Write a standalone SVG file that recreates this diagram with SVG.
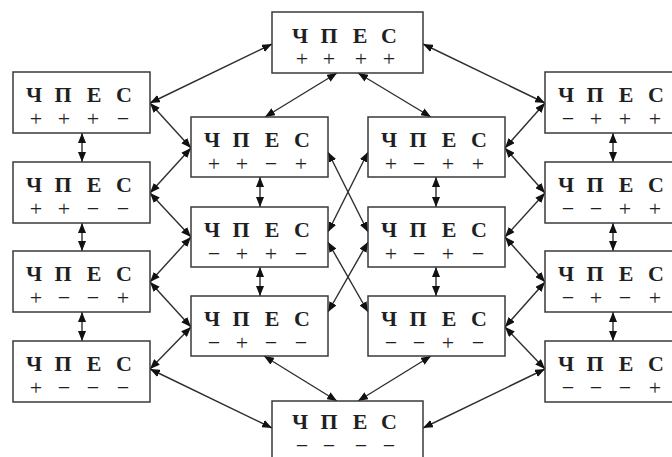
<svg xmlns="http://www.w3.org/2000/svg" width="672" height="457" viewBox="0 0 672 457">
  <style>
    .box { fill: #ffffff; stroke: #3a3a3a; stroke-width: 1.5; }
    .hd { font-family: "Liberation Serif", "Times New Roman", serif; font-weight: bold; font-size: 22px; fill: #1e1e1e; text-anchor: middle; opacity: 0.99; }
    .sg { font-family: "Liberation Serif", "Times New Roman", serif; font-size: 22px; fill: #1e1e1e; text-anchor: middle; opacity: 0.99; }
    .cn { fill: none; stroke: #2e2e2e; stroke-width: 1.4; marker-start: url(#ah); marker-end: url(#ah); }
  </style>
  <defs>
    <marker id="ah" viewBox="0 0 10 8" refX="10" refY="4" markerWidth="10" markerHeight="8" markerUnits="userSpaceOnUse" orient="auto-start-reverse">
      <path d="M0,0 L10,4 L0,8 z" fill="#111"/>
    </marker>
  </defs>
  <rect x="0" y="0" width="672" height="457" fill="#ffffff"/>

  <!-- connectors -->
  <g id="connectors">
    <!-- top node -->
    <line class="cn" x1="150" y1="103" x2="272" y2="44"/>
    <line class="cn" x1="337" y1="73" x2="265" y2="117"/>
    <line class="cn" x1="358" y1="73" x2="431" y2="117"/>
    <line class="cn" x1="423" y1="44" x2="545" y2="103"/>
    <!-- bottom node -->
    <line class="cn" x1="150" y1="369" x2="272" y2="428"/>
    <line class="cn" x1="264" y1="356" x2="337" y2="401"/>
    <line class="cn" x1="431" y1="356" x2="358" y2="401"/>
    <line class="cn" x1="545" y1="369" x2="423" y2="428"/>
    <!-- left column verticals -->
    <line class="cn" x1="82" y1="133" x2="82" y2="162"/>
    <line class="cn" x1="82" y1="223" x2="82" y2="251"/>
    <line class="cn" x1="82" y1="312" x2="82" y2="341"/>
    <!-- inner left verticals -->
    <line class="cn" x1="260" y1="177" x2="260" y2="207"/>
    <line class="cn" x1="260" y1="267" x2="260" y2="296"/>
    <!-- inner right verticals -->
    <line class="cn" x1="436" y1="177" x2="436" y2="207"/>
    <line class="cn" x1="436" y1="267" x2="436" y2="296"/>
    <!-- right column verticals -->
    <line class="cn" x1="613" y1="133" x2="613" y2="162"/>
    <line class="cn" x1="613" y1="223" x2="613" y2="251"/>
    <line class="cn" x1="613" y1="312" x2="613" y2="341"/>
    <!-- left zigzag -->
    <line class="cn" x1="150" y1="103" x2="191" y2="148"/>
    <line class="cn" x1="191" y1="148" x2="150" y2="193"/>
    <line class="cn" x1="150" y1="193" x2="191" y2="237"/>
    <line class="cn" x1="191" y1="237" x2="150" y2="282"/>
    <line class="cn" x1="150" y1="282" x2="191" y2="327"/>
    <line class="cn" x1="191" y1="327" x2="150" y2="369"/>
    <!-- right zigzag -->
    <line class="cn" x1="545" y1="103" x2="505" y2="148"/>
    <line class="cn" x1="505" y1="148" x2="545" y2="193"/>
    <line class="cn" x1="545" y1="193" x2="505" y2="237"/>
    <line class="cn" x1="505" y1="237" x2="545" y2="282"/>
    <line class="cn" x1="545" y1="282" x2="505" y2="327"/>
    <line class="cn" x1="505" y1="327" x2="545" y2="369"/>
    <!-- crossings between inner columns -->
    <line class="cn" x1="328" y1="152" x2="368" y2="232"/>
    <line class="cn" x1="368" y1="152" x2="328" y2="232"/>
    <line class="cn" x1="328" y1="242" x2="368" y2="312"/>
    <line class="cn" x1="368" y1="242" x2="328" y2="312"/>
  </g>

  <!-- top -->
  <g id="n-pppp" transform="translate(272,12)">
    <rect class="box" x="0" y="0" width="151" height="61"/>
    <text class="hd"><tspan x="28" y="31">Ч</tspan><tspan x="57" y="31">П</tspan><tspan x="88" y="31">Е</tspan><tspan x="117" y="31">С</tspan></text>
    <text class="sg"><tspan x="30" y="54">+</tspan><tspan x="57" y="54">+</tspan><tspan x="89" y="54">+</tspan><tspan x="117" y="54">+</tspan></text>
  </g>

  <!-- left column -->
  <g id="n-pppm" transform="translate(13,72)">
    <rect class="box" x="0" y="0" width="137" height="61"/>
    <text class="hd"><tspan x="21" y="30">Ч</tspan><tspan x="50" y="30">П</tspan><tspan x="81" y="30">Е</tspan><tspan x="111" y="30">С</tspan></text>
    <text class="sg"><tspan x="23" y="53.5">+</tspan><tspan x="51" y="53.5">+</tspan><tspan x="80" y="53.5">+</tspan><tspan x="110" y="53.5">−</tspan></text>
  </g>
  <g id="n-ppmm" transform="translate(13,162)">
    <rect class="box" x="0" y="0" width="137" height="61"/>
    <text class="hd"><tspan x="21" y="30">Ч</tspan><tspan x="50" y="30">П</tspan><tspan x="81" y="30">Е</tspan><tspan x="111" y="30">С</tspan></text>
    <text class="sg"><tspan x="23" y="53.5">+</tspan><tspan x="51" y="53.5">+</tspan><tspan x="80" y="53.5">−</tspan><tspan x="110" y="53.5">−</tspan></text>
  </g>
  <g id="n-pmmp" transform="translate(13,251)">
    <rect class="box" x="0" y="0" width="137" height="61"/>
    <text class="hd"><tspan x="21" y="30">Ч</tspan><tspan x="50" y="30">П</tspan><tspan x="81" y="30">Е</tspan><tspan x="111" y="30">С</tspan></text>
    <text class="sg"><tspan x="23" y="53.5">+</tspan><tspan x="51" y="53.5">−</tspan><tspan x="80" y="53.5">−</tspan><tspan x="110" y="53.5">+</tspan></text>
  </g>
  <g id="n-pmmm" transform="translate(13,341)">
    <rect class="box" x="0" y="0" width="137" height="61"/>
    <text class="hd"><tspan x="21" y="30">Ч</tspan><tspan x="50" y="30">П</tspan><tspan x="81" y="30">Е</tspan><tspan x="111" y="30">С</tspan></text>
    <text class="sg"><tspan x="23" y="53.5">+</tspan><tspan x="51" y="53.5">−</tspan><tspan x="80" y="53.5">−</tspan><tspan x="110" y="53.5">−</tspan></text>
  </g>

  <!-- inner left column -->
  <g id="n-ppmp" transform="translate(191,117)">
    <rect class="box" x="0" y="0" width="137" height="60"/>
    <text class="hd"><tspan x="21" y="30">Ч</tspan><tspan x="50" y="30">П</tspan><tspan x="81" y="30">Е</tspan><tspan x="111" y="30">С</tspan></text>
    <text class="sg"><tspan x="23" y="53.5">+</tspan><tspan x="51" y="53.5">+</tspan><tspan x="80" y="53.5">−</tspan><tspan x="110" y="53.5">+</tspan></text>
  </g>
  <g id="n-mppm" transform="translate(191,207)">
    <rect class="box" x="0" y="0" width="137" height="60"/>
    <text class="hd"><tspan x="21" y="30">Ч</tspan><tspan x="50" y="30">П</tspan><tspan x="81" y="30">Е</tspan><tspan x="111" y="30">С</tspan></text>
    <text class="sg"><tspan x="23" y="53.5">−</tspan><tspan x="51" y="53.5">+</tspan><tspan x="80" y="53.5">+</tspan><tspan x="110" y="53.5">−</tspan></text>
  </g>
  <g id="n-mpmm" transform="translate(191,296)">
    <rect class="box" x="0" y="0" width="137" height="60"/>
    <text class="hd"><tspan x="21" y="30">Ч</tspan><tspan x="50" y="30">П</tspan><tspan x="81" y="30">Е</tspan><tspan x="111" y="30">С</tspan></text>
    <text class="sg"><tspan x="23" y="53.5">−</tspan><tspan x="51" y="53.5">+</tspan><tspan x="80" y="53.5">−</tspan><tspan x="110" y="53.5">−</tspan></text>
  </g>

  <!-- inner right column -->
  <g id="n-pmpp" transform="translate(368,117)">
    <rect class="box" x="0" y="0" width="137" height="60"/>
    <text class="hd"><tspan x="21" y="30">Ч</tspan><tspan x="50" y="30">П</tspan><tspan x="81" y="30">Е</tspan><tspan x="111" y="30">С</tspan></text>
    <text class="sg"><tspan x="23" y="53.5">+</tspan><tspan x="51" y="53.5">−</tspan><tspan x="80" y="53.5">+</tspan><tspan x="110" y="53.5">+</tspan></text>
  </g>
  <g id="n-pmpm" transform="translate(368,207)">
    <rect class="box" x="0" y="0" width="137" height="60"/>
    <text class="hd"><tspan x="21" y="30">Ч</tspan><tspan x="50" y="30">П</tspan><tspan x="81" y="30">Е</tspan><tspan x="111" y="30">С</tspan></text>
    <text class="sg"><tspan x="23" y="53.5">+</tspan><tspan x="51" y="53.5">−</tspan><tspan x="80" y="53.5">+</tspan><tspan x="110" y="53.5">−</tspan></text>
  </g>
  <g id="n-mmpm" transform="translate(368,296)">
    <rect class="box" x="0" y="0" width="137" height="60"/>
    <text class="hd"><tspan x="21" y="30">Ч</tspan><tspan x="50" y="30">П</tspan><tspan x="81" y="30">Е</tspan><tspan x="111" y="30">С</tspan></text>
    <text class="sg"><tspan x="23" y="53.5">−</tspan><tspan x="51" y="53.5">−</tspan><tspan x="80" y="53.5">+</tspan><tspan x="110" y="53.5">−</tspan></text>
  </g>

  <!-- right column -->
  <g id="n-mppp" transform="translate(545,72)">
    <rect class="box" x="0" y="0" width="137" height="61"/>
    <text class="hd"><tspan x="21" y="30">Ч</tspan><tspan x="50" y="30">П</tspan><tspan x="81" y="30">Е</tspan><tspan x="111" y="30">С</tspan></text>
    <text class="sg"><tspan x="23" y="53.5">−</tspan><tspan x="51" y="53.5">+</tspan><tspan x="80" y="53.5">+</tspan><tspan x="110" y="53.5">+</tspan></text>
  </g>
  <g id="n-mmpp" transform="translate(545,162)">
    <rect class="box" x="0" y="0" width="137" height="61"/>
    <text class="hd"><tspan x="21" y="30">Ч</tspan><tspan x="50" y="30">П</tspan><tspan x="81" y="30">Е</tspan><tspan x="111" y="30">С</tspan></text>
    <text class="sg"><tspan x="23" y="53.5">−</tspan><tspan x="51" y="53.5">−</tspan><tspan x="80" y="53.5">+</tspan><tspan x="110" y="53.5">+</tspan></text>
  </g>
  <g id="n-mpmp" transform="translate(545,251)">
    <rect class="box" x="0" y="0" width="137" height="61"/>
    <text class="hd"><tspan x="21" y="30">Ч</tspan><tspan x="50" y="30">П</tspan><tspan x="81" y="30">Е</tspan><tspan x="111" y="30">С</tspan></text>
    <text class="sg"><tspan x="23" y="53.5">−</tspan><tspan x="51" y="53.5">+</tspan><tspan x="80" y="53.5">−</tspan><tspan x="110" y="53.5">+</tspan></text>
  </g>
  <g id="n-mmmp" transform="translate(545,341)">
    <rect class="box" x="0" y="0" width="137" height="61"/>
    <text class="hd"><tspan x="21" y="30">Ч</tspan><tspan x="50" y="30">П</tspan><tspan x="81" y="30">Е</tspan><tspan x="111" y="30">С</tspan></text>
    <text class="sg"><tspan x="23" y="53.5">−</tspan><tspan x="51" y="53.5">−</tspan><tspan x="80" y="53.5">−</tspan><tspan x="110" y="53.5">+</tspan></text>
  </g>

  <!-- bottom -->
  <g id="n-mmmm" transform="translate(272,401)">
    <rect class="box" x="0" y="0" width="151" height="61"/>
    <text class="hd"><tspan x="28" y="28">Ч</tspan><tspan x="57" y="28">П</tspan><tspan x="88" y="28">Е</tspan><tspan x="117" y="28">С</tspan></text>
    <text class="sg"><tspan x="30" y="52">−</tspan><tspan x="57" y="52">−</tspan><tspan x="89" y="52">−</tspan><tspan x="117" y="52">−</tspan></text>
  </g>
</svg>
